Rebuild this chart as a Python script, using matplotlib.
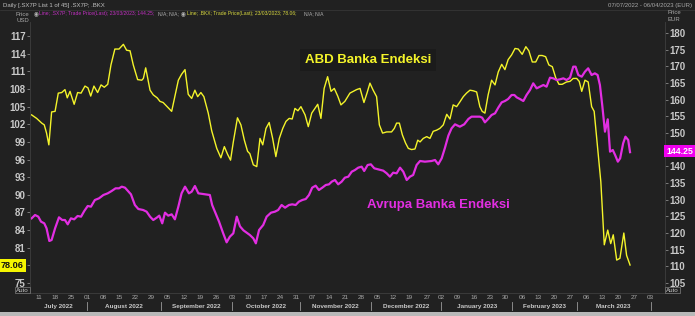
import matplotlib
matplotlib.use("Agg")
import matplotlib.pyplot as plt
import matplotlib.transforms as mtransforms
import pandas as pd

START = pd.Timestamp("2022-07-07")

# .BKX (ABD banka endeksi, USD) - gun sayisi 07/07/2022'den itibaren
bkx_days = [0.8, 3.0, 5.2, 6.3, 7.3, 8.3, 9.5, 11.0, 12.4, 13.9, 15.3, 16.3, 17.5, 19.3, 20.8,
            22.3, 24.0, 25.3, 26.5, 27.9, 29.5, 31.0, 32.4, 33.9, 35.3, 37.0, 38.8, 40.7, 42.1,
            43.6, 45.0, 46.9, 48.7, 49.4, 50.4, 52.3, 53.7, 55.4, 56.6, 58.0, 59.5, 61.7, 64.6,
            66.0, 67.5, 68.9, 70.4, 71.8, 73.0, 74.4, 75.7, 77.6, 79.1, 81.3, 83.1, 84.6, 86.0,
            87.3, 88.5, 90.3, 91.8, 93.3, 94.7, 95.7, 97.2, 98.7, 100.1, 101.3, 102.7, 104.1,
            105.6, 107.0, 108.5, 110.0, 111.4, 112.8, 114.1, 115.3, 116.6, 117.9, 119.7, 121.1,
            122.6, 124.0, 125.2, 126.6, 128.0, 129.5, 131.0, 132.4, 133.9, 135.3, 137.0, 139.2,
            140.7, 142.1, 143.6, 145.3, 146.7, 147.9, 149.3, 150.8, 152.0, 153.4, 155.2, 157.3,
            158.5, 159.5, 160.7, 162.0, 163.4, 164.6, 166.0, 167.5, 168.7, 169.7, 171.1, 172.6,
            174.0, 175.4, 176.9, 178.3, 179.8, 181.3, 182.7, 184.1, 185.6, 187.0, 188.5, 189.9,
            191.4, 192.8, 194.3, 195.7, 196.7, 197.9, 199.3, 200.8, 202.3, 203.7, 205.2, 206.6,
            208.0, 209.5, 211.0, 212.4, 214.1, 215.7, 217.0, 218.5, 220.0, 221.4, 222.8, 224.3,
            225.7, 227.2, 228.7, 230.1, 231.5, 233.4, 234.9, 236.3, 237.8, 238.9, 240.0, 241.4,
            242.8, 244.3, 245.4, 246.5, 247.5, 248.3, 249.1, 249.8, 251.3, 252.6, 253.7, 255.2,
            256.6, 258.3, 259.5, 261.0]
bkx_price = [103.6, 103.0, 102.2, 101.9, 100.5, 98.5, 104.1, 104.2, 107.3, 107.4, 107.9, 106.5,
             107.6, 105.4, 107.4, 107.3, 108.5, 108.2, 106.8, 108.5, 107.4, 108.7, 108.3, 108.8,
             112.1, 114.8, 114.8, 115.6, 114.6, 114.5, 112.1, 109.6, 109.5, 109.8, 111.6, 107.8,
             107.0, 106.5, 105.9, 105.7, 105.1, 104.2, 109.5, 110.5, 111.3, 107.1, 106.4, 107.8,
             106.7, 107.4, 106.7, 103.9, 100.9, 97.9, 96.3, 98.2, 96.9, 95.9, 99.0, 103.1, 101.9,
             99.3, 97.4, 97.0, 95.1, 94.8, 99.6, 98.5, 101.3, 102.3, 99.6, 96.5, 99.6, 101.3,
             102.5, 103.0, 102.9, 104.7, 104.3, 105.0, 103.6, 101.6, 103.9, 104.7, 105.4, 103.0,
             108.1, 110.1, 107.6, 108.1, 106.8, 105.3, 105.9, 107.3, 107.6, 107.9, 108.1, 105.7,
             107.4, 109.0, 107.8, 106.7, 101.9, 100.5, 100.7, 100.7, 101.3, 102.2, 102.2, 100.2,
             98.8, 97.9, 97.7, 97.8, 99.3, 99.0, 99.6, 99.9, 99.6, 100.8, 101.0, 101.3, 101.9,
             103.7, 102.9, 105.3, 105.0, 105.8, 106.7, 107.3, 107.8, 107.7, 107.5, 105.0, 104.2,
             103.9, 107.0, 109.5, 108.7, 110.9, 112.2, 111.3, 113.0, 113.8, 114.9, 114.8, 113.9,
             115.2, 114.5, 112.6, 112.6, 113.7, 113.7, 113.5, 112.1, 111.8, 109.9, 108.8, 108.8,
             109.2, 109.3, 109.8, 109.8, 109.3, 107.6, 109.5, 109.2, 105.0, 104.2, 99.6, 95.6,
             92.2, 86.6, 81.5, 84.0, 81.7, 83.2, 78.9, 79.2, 83.5, 79.7, 78.06]

# .SX7P (Avrupa banka endeksi, EUR)
sx7p_days = [0.8, 2.3, 3.7, 4.9, 6.3, 7.3, 8.5, 9.5, 11.0, 12.7, 14.1, 15.3, 16.5, 17.9, 19.3,
             20.8, 22.3, 23.7, 25.2, 26.6, 28.3, 30.1, 32.0, 33.9, 35.6, 37.3, 38.8, 40.0, 41.4,
             42.7, 44.0, 45.7, 47.2, 49.3, 50.8, 52.3, 53.7, 55.2, 56.3, 57.6, 58.8, 60.2, 61.7,
             63.1, 64.6, 66.0, 67.5, 69.2, 70.4, 71.8, 73.3, 75.4, 78.3, 79.3, 80.8, 82.3, 84.1,
             85.6, 87.0, 88.5, 90.0, 91.4, 92.9, 95.7, 97.2, 98.3, 99.7, 101.5, 103.0, 104.9,
             106.6, 108.0, 109.5, 111.0, 112.7, 114.1, 115.6, 117.0, 118.5, 120.0, 121.4, 122.8,
             124.3, 125.7, 127.2, 128.7, 130.1, 131.3, 132.7, 134.1, 135.6, 137.0, 138.5, 140.0,
             141.4, 142.8, 144.3, 145.4, 146.9, 148.3, 149.8, 151.5, 153.7, 155.2, 156.6, 158.0,
             159.5, 161.0, 162.4, 163.9, 165.3, 166.7, 168.2, 169.7, 171.8, 174.7, 176.2, 177.6,
             179.1, 180.5, 182.0, 183.4, 184.9, 187.0, 188.9, 190.7, 192.1, 193.9, 195.7, 196.7,
             197.9, 199.3, 200.8, 202.3, 203.7, 205.2, 206.6, 208.0, 209.5, 210.7, 211.7, 213.1,
             214.6, 216.0, 217.5, 218.9, 220.4, 221.8, 223.3, 224.7, 226.2, 227.6, 229.1, 230.5,
             232.0, 233.4, 234.9, 236.3, 237.3, 238.5, 240.0, 241.4, 242.8, 244.3, 245.7, 246.9,
             247.9, 248.9, 250.1, 251.3, 252.3, 253.5, 254.5, 255.7, 256.7, 258.0, 259.0, 260.2,
             261.0]
sx7p_price = [124.4, 125.4, 124.9, 123.4, 122.9, 121.4, 117.6, 117.9, 121.4, 124.7, 123.9, 123.9,
              122.6, 124.4, 124.1, 125.1, 124.9, 126.6, 128.1, 127.9, 129.9, 130.4, 131.4, 131.9,
              132.6, 133.4, 133.4, 133.9, 133.6, 132.6, 131.6, 128.4, 127.2, 126.9, 126.4, 124.9,
              123.9, 124.6, 125.2, 122.9, 126.1, 125.2, 125.6, 124.1, 127.9, 131.9, 133.9, 131.9,
              132.4, 134.1, 131.9, 131.7, 131.4, 128.4, 125.9, 123.4, 119.9, 117.2, 118.9, 119.9,
              124.9, 122.0, 120.8, 119.4, 118.4, 116.9, 120.9, 122.4, 124.9, 126.1, 126.4, 126.9,
              128.4, 127.6, 128.4, 128.6, 128.4, 129.4, 129.9, 130.2, 131.4, 133.6, 134.2, 132.9,
              133.6, 134.4, 134.6, 135.4, 135.9, 134.6, 135.4, 136.6, 136.9, 138.4, 138.9, 139.6,
              139.9, 138.6, 140.4, 140.6, 139.4, 139.1, 138.7, 137.9, 136.9, 138.1, 137.9, 139.6,
              138.4, 135.9, 136.9, 137.4, 140.4, 141.6, 141.4, 141.6, 141.9, 140.6, 142.4, 145.5,
              149.2, 151.4, 152.6, 151.9, 152.6, 154.2, 154.9, 154.9, 154.9, 154.6, 153.2, 154.2,
              155.4, 155.9, 157.6, 159.2, 159.6, 160.2, 161.4, 161.4, 160.7, 160.2, 159.6, 161.4,
              162.9, 164.9, 163.4, 163.9, 164.4, 163.9, 166.6, 166.4, 165.9, 166.1, 166.4, 165.9,
              166.6, 169.9, 169.9, 167.4, 166.9, 168.4, 169.4, 167.4, 167.9, 167.4, 164.4, 158.4,
              150.4, 154.1, 144.4, 144.9, 143.4, 141.4, 142.4, 146.9, 148.9, 147.9, 144.25]

bkx_last = "78.06"
sx7p_last = "144.25"
left_ticks = list(range(75, 118, 3))
right_ticks = list(range(105, 181, 5))

BG = "#212121"
YEL = "#f4f42a"
MAG = "#e22ee2"
TXT = "#c8c8c8"
FONT = "Liberation Sans"


def day_of(ts):
    return (pd.Timestamp(ts) - START).days


def main():
    W, H = 695, 316
    fig = plt.figure(figsize=(W / 100, H / 100), dpi=100, facecolor=BG)
    ax = fig.add_axes([30 / W, 1 - 293 / H, 635 / W, 271 / H], facecolor=BG)
    ax2 = ax.twinx()

    ax.plot(bkx_days, bkx_price, color=YEL, lw=1.0, zorder=3)
    ax2.plot(sx7p_days, sx7p_price, color=MAG, lw=1.6, zorder=2)

    ax.set_xlim(0.1, 276.2)
    ax.set_ylim(73.3, 119.4)
    ax2.set_ylim(102.0, 183.3)

    ax.set_yticks(left_ticks)
    ax.set_yticklabels(["" if t == 78 else str(t) for t in left_ticks])
    ax2.set_yticks(right_ticks)
    ax2.set_yticklabels(["" if t == 145 else str(t) for t in right_ticks])
    for a in (ax, ax2):
        a.tick_params(axis="y", direction="out", length=2, width=0.6, color="#8a8a8a",
                      labelcolor=TXT, labelsize=7, pad=1)
        for lab in a.get_yticklabels():
            lab.set_fontfamily(FONT)
            lab.set_fontweight("bold")
        for s in a.spines.values():
            s.set_color("#3a3a3a")
            s.set_linewidth(0.6)
        a.spines["top"].set_visible(False)

    # haftalik tikler (pazartesi; 26 Aralik tatil -> 27)
    mondays = list(pd.date_range("2022-07-11", "2023-04-03", freq="W-MON"))
    mondays = [d + pd.Timedelta(days=1) if d == pd.Timestamp("2022-12-26") else d for d in mondays]
    ax.set_xticks([day_of(d) for d in mondays])
    ax.set_xticklabels([d.strftime("%d") for d in mondays])
    ax.tick_params(axis="x", length=0, labelsize=4.6, labelcolor="#a8a8a8", pad=1.5)
    for lab in ax.get_xticklabels():
        lab.set_fontfamily(FONT)

    # ay ayiricilari (islem gunu bazinda konum)
    trans = mtransforms.blended_transform_factory(ax.transData, ax.transAxes)
    first_days = ["2022-08-01", "2022-09-01", "2022-10-03", "2022-11-01", "2022-12-01",
                  "2023-01-02", "2023-02-01", "2023-03-01", "2023-04-03"]
    seps = []
    for fd in first_days:
        t = pd.Timestamp(fd)
        seps.append(day_of(t - pd.Timedelta(days=t.weekday())) + t.weekday() * 1.4)
    for s in seps:
        ax.plot([s, s], [-0.033, -0.062], transform=trans, color="#9a9a9a", lw=0.6,
                clip_on=False)
    months = ["July 2022", "August 2022", "September 2022", "October 2022", "November 2022",
              "December 2022", "January 2023", "February 2023", "March 2023"]
    bounds = [0.1] + seps
    for i, m in enumerate(months):
        ax.text((bounds[i] + bounds[i + 1]) / 2, -0.049, m, transform=trans, ha="center",
                va="center", fontsize=4.6, color=TXT, fontweight="bold", family=FONT)

    # seri etiketleri
    ax.text(0.532, 0.86, "ABD Banka Endeksi", transform=ax.transAxes, ha="center",
            va="center", fontsize=9.5, fontweight="bold", color=YEL, family=FONT, zorder=5,
            bbox=dict(boxstyle="square,pad=0.35", fc="#1b1b1b", ec="none"))
    ax.text(0.643, 0.325, "Avrupa Banka Endeksi", transform=ax.transAxes, ha="center",
            va="center", fontsize=9.5, fontweight="bold", color=MAG, family=FONT, zorder=5)

    # son deger kutulari
    fig.text(1 / W, 1 - 265.5 / H, bkx_last, ha="left", va="center", fontsize=6.6,
             fontweight="bold", color="#111111", family=FONT,
             bbox=dict(boxstyle="square,pad=0.2", fc="#f5f500", ec="none"))
    fig.text(666 / W, 1 - 151 / H, sx7p_last, ha="left", va="center", fontsize=6.3,
             fontweight="bold", color="#ffffff", family=FONT,
             bbox=dict(boxstyle="square,pad=0.2", fc="#f000f0", ec="none"))

    # "Auto" kutulari
    for x in (16 / W, 666 / W):
        fig.text(x, 1 - 290 / H, "Auto", ha="left", va="center", fontsize=4.5, color=TXT,
                 family=FONT, bbox=dict(boxstyle="square,pad=0.15", fc=BG, ec="#808080", lw=0.5))

    # baslik satirlari
    fig.text(3 / W, 1 - 6 / H, "Daily [.SX7P List 1 of 45] .SX7P; .BKX", fontsize=4.3,
             color="#c0c0c0", va="center", family=FONT)
    fig.text(692 / W, 1 - 6 / H, "07/07/2022 - 06/04/2023 (EUR)", fontsize=4.3,
             color="#a8a8a8", va="center", ha="right", family=FONT)
    fig.add_artist(plt.Line2D([0, 1], [1 - 10 / H, 1 - 10 / H], color="#3a3a3a", lw=0.5))
    fig.text(29 / W, 1 - 14 / H, "Price", fontsize=4.3, color="#a8a8a8", va="center",
             ha="right", family=FONT)
    fig.text(29 / W, 1 - 20.5 / H, "USD", fontsize=4.3, color="#a8a8a8", va="center",
             ha="right", family=FONT)
    fig.text(667 / W, 1 - 13 / H, "Price", fontsize=4.3, color="#a8a8a8", va="center",
             family=FONT)
    fig.text(667 / W, 1 - 19.5 / H, "EUR", fontsize=4.3, color="#a8a8a8", va="center",
             family=FONT)
    fig.text(34 / W, 1 - 14 / H, "◉", fontsize=4, color="#b8b8b8", va="center",
             family="DejaVu Sans")
    fig.text(39 / W, 1 - 14 / H,
             "Line; .SX7P; Trade Price(Last); 23/03/2023; " + sx7p_last + ";",
             fontsize=3.6, color="#c030c0", va="center", family=FONT)
    fig.text(158 / W, 1 - 14 / H, "N/A; N/A;", fontsize=3.6, color="#b0b0b0", va="center",
             family=FONT)
    fig.text(181 / W, 1 - 14 / H, "◉", fontsize=4, color="#b8b8b8", va="center",
             family="DejaVu Sans")
    fig.text(187 / W, 1 - 14 / H,
             "Line; .BKX; Trade Price(Last); 23/03/2023; " + bkx_last + ";",
             fontsize=3.6, color="#d8d840", va="center", family=FONT)
    fig.text(304 / W, 1 - 14 / H, "N/A; N/A", fontsize=3.6, color="#b0b0b0", va="center",
             family=FONT)

    # alttaki acik serit
    fig.add_artist(plt.Rectangle((0, 0), 1, 4 / H, transform=fig.transFigure,
                                 color="#b8b8b8", lw=0))

    fig.savefig("out.png", dpi=100, facecolor=BG)
    plt.close(fig)


if __name__ == "__main__":
    main()
